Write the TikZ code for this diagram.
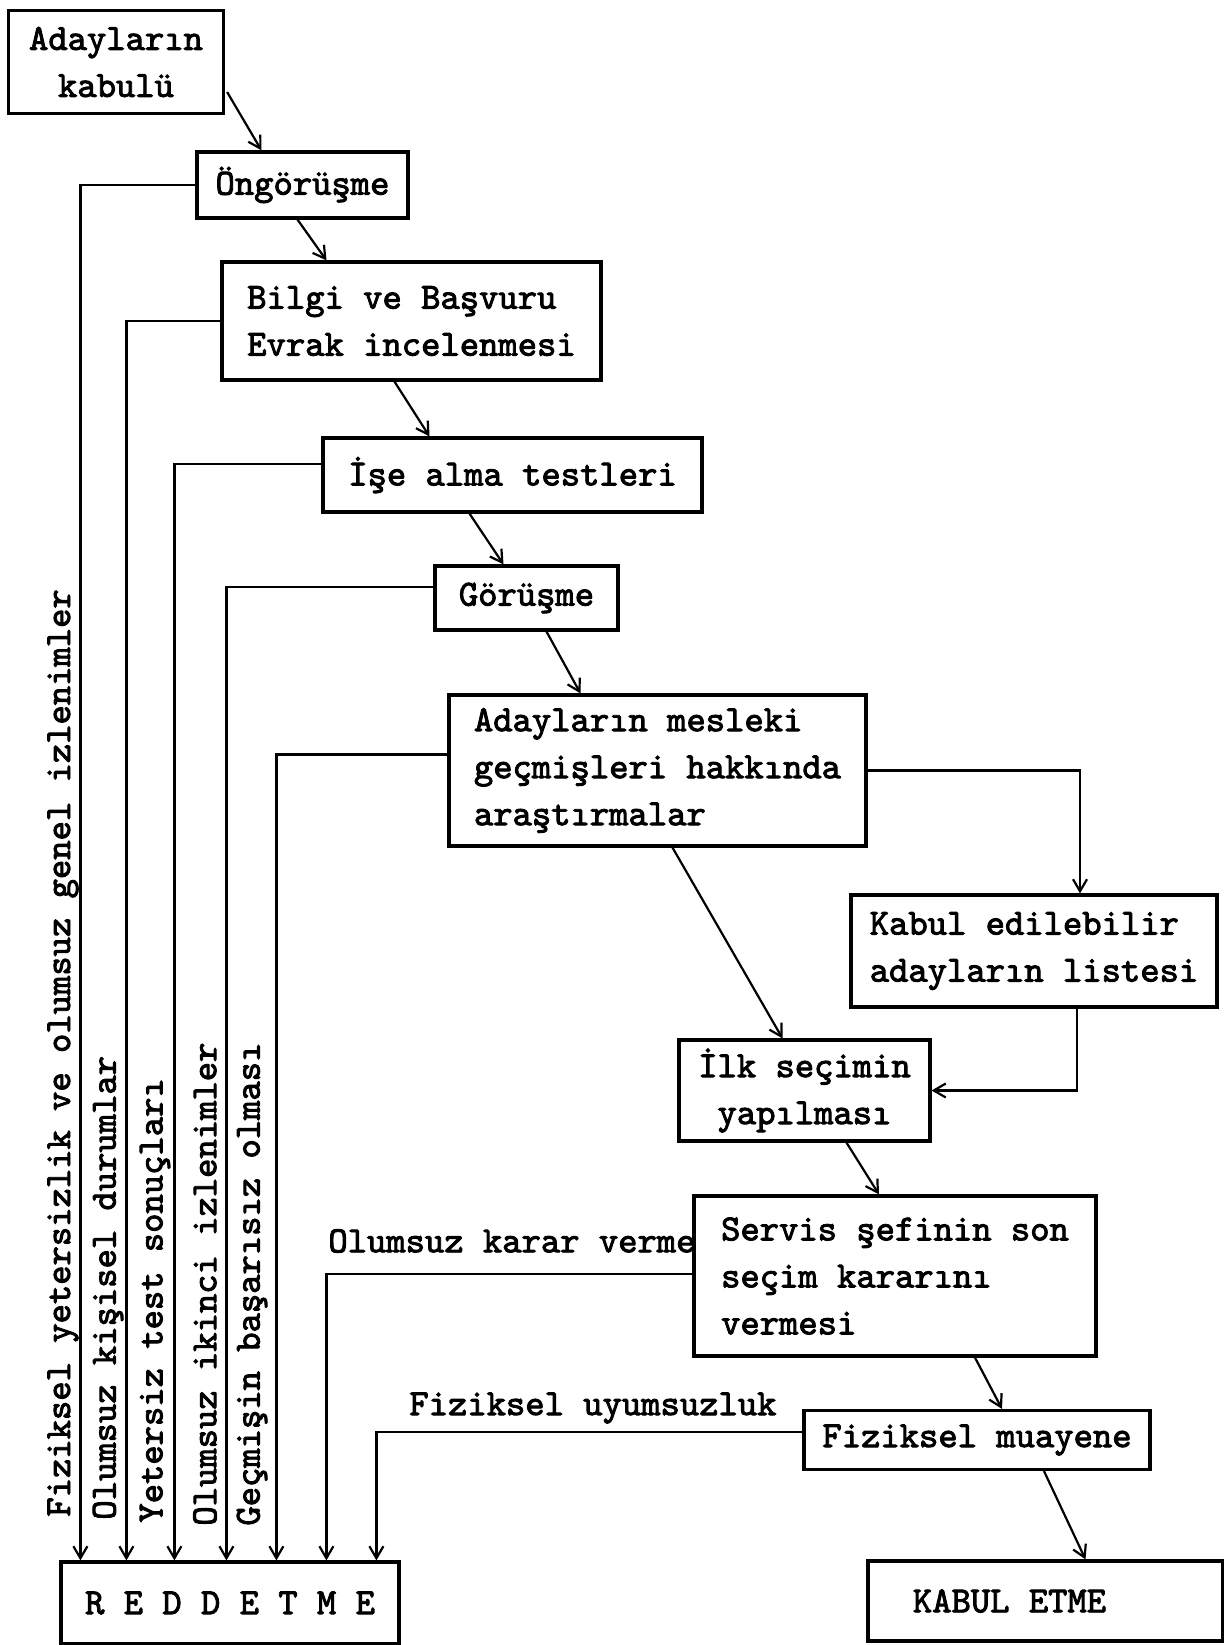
\documentclass[tikz,border=0pt]{standalone}
\usepackage{fontspec}
\usepackage{tikz}
\usetikzlibrary{arrows.meta,calc}
\newfontfamily\typew{lmmono10-regular}[Extension=.otf,FakeBold=2.5]

\begin{document}
\begin{tikzpicture}[x=0.5pt,y=0.5pt,yscale=-1,
  box/.style={draw,line width=1.6pt,inner sep=3pt,align=left,font=\typew\fontsize{18.4}{23.5}\selectfont},
  link/.style={line width=1.1pt,-{Straight Barb[length=6pt,width=7pt]}},
  lbl/.style={inner sep=0pt,font=\typew\fontsize{18.4}{23.5}\selectfont}]
\useasboundingbox (0,0) rectangle (1224,1645);

%Shapes: Rectangle
\node[box,align=center,minimum width=107.5pt,minimum height=51.5pt] (adaylar) at (116,62) {Adayların\\kabulü};
\node[box,minimum width=105.5pt,minimum height=33pt] (ongorusme) at (302.5,185) {Öngörüşme};
\node[box,minimum width=189.5pt,minimum height=59pt] (bilgi) at (411.5,321) {Bilgi ve Başvuru\\Evrak incelenmesi};
\node[box,minimum width=189.5pt,minimum height=37pt] (ise) at (512.5,475) {İşe alma testleri};
\node[box,minimum width=91.5pt,minimum height=32pt] (gorusme) at (526.5,598) {Görüşme};
\node[box,minimum width=208.5pt,minimum height=75.5pt] (mesleki) at (657.5,770.5) {Adayların mesleki\\geçmişleri hakkında\\araştırmalar};
\node[box,minimum width=183pt,minimum height=56pt] (listesi) at (1034,951) {Kabul edilebilir\\adayların listesi};
\node[box,align=center,minimum width=125.5pt,minimum height=50.5pt] (ilk) at (804.5,1090.5) {İlk seçimin\\yapılması};
\node[box,minimum width=201pt,minimum height=80pt] (servis) at (895,1276) {Servis şefinin son\\seçim kararını\\vermesi};
\node[box,minimum width=173pt,minimum height=29.5pt] (muayene) at (977,1440) {Fiziksel muayene};
\node[box,align=center,minimum width=177.5pt,minimum height=40pt] (kabuletme) at (1045.5,1601) {KABUL ETME\hspace*{36pt}};
\node[box,align=center,minimum width=169pt,minimum height=41pt] (reddetme) at (230,1603) {R E D D E T M E};

%Straight Lines
\draw[link] ($(adaylar.east)+(2,30)$) -- ($(ongorusme.north)+(-41,0)$);
\draw[link] ($(ongorusme.south)+(-5,0)$) -- ($(bilgi.north)+(-85,0)$);
\draw[link] ($(bilgi.south)+(-17,0)$) -- ($(ise.north)+(-83,0)$);
\draw[link] ($(ise.south)+(-43,0)$) -- ($(gorusme.north)+(-23,0)$);
\draw[link] ($(gorusme.south)+(20,0)$) -- ($(mesleki.north)+(-77,0)$);
\draw[link] ($(mesleki.south)+(15,0)$) -- ($(ilk.north)+(-22,0)$);
\draw[link] (mesleki.east) -| ($(listesi.north)+(46,0)$);
\draw[link] ($(listesi.south)+(43,0)$) |- (ilk.east);
\draw[link] ($(ilk.south)+(42,0)$) -- ($(servis.north)+(-16,0)$);
\draw[link] ($(servis.south)+(80,0)$) -- ($(muayene.north)+(25,0)$);
\draw[link] ($(muayene.south)+(67,0)$) -- ($(kabuletme.north)+(40,0)$);

%Reject lines
\draw[link] (ongorusme.west) -| ($(reddetme.north west)+(21,0)$);
\draw[link] (bilgi.west) -| ($(reddetme.north west)+(67,0)$);
\draw[link] ($(ise.west)+(0,-11)$) -| ($(reddetme.north west)+(115,0)$);
\draw[link] ($(gorusme.west)+(0,-11)$) -| ($(reddetme.north west)+(167,0)$);
\draw[link] ($(mesleki.west)+(0,-16)$) -| ($(reddetme.north west)+(217,0)$);
\draw[link] ($(servis.west)+(0,-2)$) -| ($(reddetme.north west)+(267,0)$);
\draw[link] ($(muayene.west)+(0,-8)$) -| ($(reddetme.north west)+(317,0)$);

%Labels
\node[lbl,rotate=90,anchor=west] (neden1) at (63,1517) {Fiziksel yetersizlik ve olumsuz genel izlenimler};
\node[lbl,rotate=90,anchor=west] (neden2) at (108,1520) {Olumsuz kişisel durumlar};
\node[lbl,rotate=90,anchor=west] (neden3) at (155,1523) {Yetersiz test sonuçları};
\node[lbl,rotate=90,anchor=west] (neden4) at (205,1526) {Olumsuz ikinci izlenimler};
\node[lbl,rotate=90,anchor=west] (neden5) at (252,1526) {Geçmişin başarısız olması};
\node[lbl,anchor=west] (neden6) at (328,1241) {Olumsuz karar verme};
\node[lbl,anchor=west] (neden7) at (409,1408) {Fiziksel uyumsuzluk};

\end{tikzpicture}
\end{document}
